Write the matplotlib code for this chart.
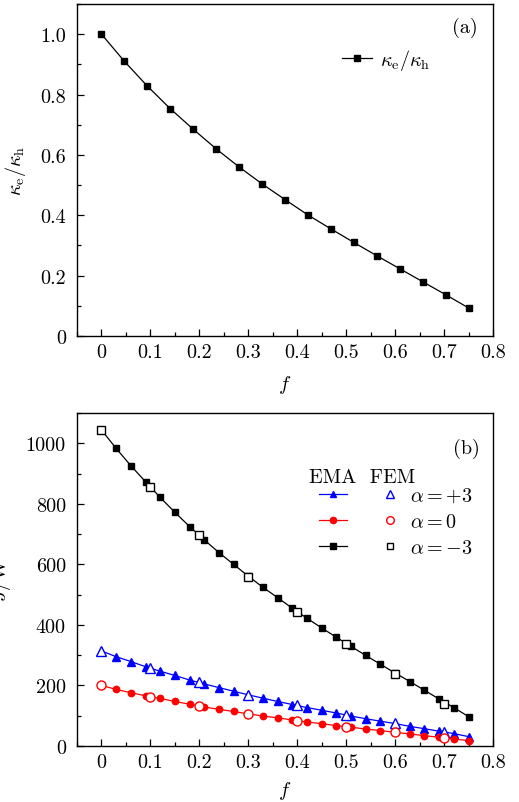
import matplotlib
matplotlib.use("Agg")
import matplotlib.pyplot as plt
import numpy as np
from matplotlib.ticker import MultipleLocator, FuncFormatter
from matplotlib.lines import Line2D

plt.rcParams['font.family'] = ['cmr10', 'DejaVu Serif']
plt.rcParams['mathtext.fontset'] = 'cm'
plt.rcParams['axes.formatter.use_mathtext'] = True
plt.rcParams['axes.unicode_minus'] = False

# ---- data panel (a) ----
f_a = [0.0, 0.046875, 0.09375, 0.140625, 0.1875, 0.234375, 0.28125, 0.328125,
       0.375, 0.421875, 0.46875, 0.515625, 0.5625, 0.609375, 0.65625, 0.703125, 0.75]
kappa_ratio = [1.0, 0.910, 0.828, 0.753, 0.685, 0.620, 0.560, 0.504,
               0.452, 0.401, 0.355, 0.310, 0.266, 0.223, 0.180, 0.137, 0.093]

# ---- data panel (b) ----
f_ema = [0.00, 0.03, 0.06, 0.09, 0.12, 0.15, 0.18, 0.21, 0.24, 0.27, 0.30, 0.33, 0.36,
         0.39, 0.42, 0.45, 0.48, 0.51, 0.54, 0.57, 0.60, 0.63, 0.66, 0.69, 0.72, 0.75]
ema_p3 = [314, 295, 279, 262, 247, 233, 218, 205, 193, 181, 169, 158, 147,
          137, 127, 118, 109, 99, 90, 82, 74, 65, 57, 49, 41, 31]
ema_0 = [200, 187, 176, 166, 157, 147, 138, 129, 121, 114, 106, 99, 93,
         86, 79, 74, 67, 62, 56, 51, 45, 40, 34, 29, 23, 18]
ema_m3 = [1044, 983, 926, 873, 821, 772, 725, 681, 639, 600, 561, 524, 490,
          455, 422, 390, 359, 329, 299, 270, 241, 213, 184, 155, 127, 97]

f_fem = [0.0, 0.1, 0.2, 0.3, 0.4, 0.5, 0.6, 0.7]
fem_p3 = [314, 258, 211, 170, 136, 104, 75, 46]
fem_0 = [200, 162, 133, 107, 84, 63, 45, 25]
fem_m3 = [1044, 854, 696, 558, 441, 336, 239, 140]

W, H = 519, 803
fig = plt.figure(figsize=(W / 100, H / 100), dpi=100)

def px_axes(l, t, r, b):
    return fig.add_axes([l / W, 1 - b / H, (r - l) / W, (b - t) / H])

axa = px_axes(77, 5, 493, 337)
axb = px_axes(77, 414, 493, 747)

FS = 14.5

def style(ax):
    ax.tick_params(which='both', direction='in', top=False, right=False, labelsize=FS)
    ax.tick_params(which='major', length=5, width=0.9)
    ax.tick_params(which='minor', length=3, width=0.9)
    ax.tick_params(axis='x', which='major', pad=5)
    ax.tick_params(axis='y', which='major', pad=8)
    for s in ax.spines.values():
        s.set_linewidth(1.0)
    ax.set_xlim(-0.05, 0.8)
    ax.xaxis.set_major_locator(MultipleLocator(0.1))
    ax.xaxis.set_minor_locator(MultipleLocator(0.05))
    ax.xaxis.set_major_formatter(FuncFormatter(lambda v, p: '0' if abs(v) < 1e-9 else f'{v:.1f}'))

# panel (a)
style(axa)
axa.plot(f_a, kappa_ratio, color='black', lw=0.9, marker='s', ms=4.2,
         label=r'$\kappa_\mathrm{e}/\kappa_\mathrm{h}$')
axa.set_ylim(0, 1.1)
axa.yaxis.set_major_locator(MultipleLocator(0.2))
axa.yaxis.set_minor_locator(MultipleLocator(0.1))
axa.yaxis.set_major_formatter(FuncFormatter(lambda v, p: '0' if abs(v) < 1e-9 else f'{v:.1f}'))
axa.set_xlabel(r'$f$', fontsize=FS)
axa.xaxis.set_label_coords(0.5, -0.112)
axa.set_ylabel(r'$\kappa_\mathrm{e}/\kappa_\mathrm{h}$', fontsize=FS)
axa.yaxis.set_label_coords(-0.118, 0.5)
axa.text(0.964, 0.96, '(a)', transform=axa.transAxes, ha='right', va='top', fontsize=FS)
axa.legend(loc='upper right', bbox_to_anchor=(0.85, 0.87), frameon=False, fontsize=FS,
           handlelength=1.5, handletextpad=0.4, borderaxespad=0, borderpad=0)

# panel (b)
style(axb)
blue, red = '#0000ff', '#ff0000'
axb.plot(f_ema, ema_p3, color=blue, lw=0.9, marker='^', ms=5.2)
axb.plot(f_ema, ema_0, color=red, lw=0.9, marker='o', ms=4.6)
axb.plot(f_ema, ema_m3, color='black', lw=0.9, marker='s', ms=4.4)
axb.plot(f_fem, fem_p3, ls='none', marker='^', ms=7, mfc='white', mec=blue, mew=1.0)
axb.plot(f_fem, fem_0, ls='none', marker='o', ms=6.5, mfc='white', mec=red, mew=1.0)
axb.plot(f_fem, fem_m3, ls='none', marker='s', ms=6, mfc='white', mec='black', mew=1.0)
axb.set_ylim(0, 1100)
axb.yaxis.set_major_locator(MultipleLocator(200))
axb.yaxis.set_minor_locator(MultipleLocator(100))
axb.yaxis.set_major_formatter(FuncFormatter(lambda v, p: f'{int(round(v))}'))
axb.set_xlabel(r'$f$', fontsize=FS)
axb.xaxis.set_label_coords(0.5, -0.1)
axb.set_ylabel(r'$J/\mathrm{W}$', fontsize=FS)
axb.yaxis.set_label_coords(-0.154, 0.5)
axb.text(0.969, 0.925, '(b)', transform=axb.transAxes, ha='right', va='top', fontsize=FS)
axb.text(0.558, 0.835, 'EMA  FEM', transform=axb.transAxes, ha='left', va='top', fontsize=FS)

h1 = Line2D([], [], color=blue, lw=0.9, marker='^', ms=5)
h2 = Line2D([], [], color=red, lw=0.9, marker='o', ms=4.5)
h3 = Line2D([], [], color='black', lw=0.9, marker='s', ms=4.2)
g1 = Line2D([], [], ls='none', marker='^', ms=6, mfc='white', mec=blue, mew=1.0)
g2 = Line2D([], [], ls='none', marker='o', ms=5.5, mfc='white', mec=red, mew=1.0)
g3 = Line2D([], [], ls='none', marker='s', ms=4.5, mfc='white', mec='black', mew=1.0)
axb.legend([h1, h2, h3, g1, g2, g3], ['', '', '', r'$\alpha=+3$', r'$\alpha=0$', r'$\alpha=-3$'],
           ncol=2, loc='upper left', bbox_to_anchor=(0.582, 0.78), frameon=False,
           fontsize=FS, handlelength=1.4, handletextpad=0.3, columnspacing=1.1,
           labelspacing=0.4, borderaxespad=0, borderpad=0)

fig.savefig('out.png', dpi=100)
